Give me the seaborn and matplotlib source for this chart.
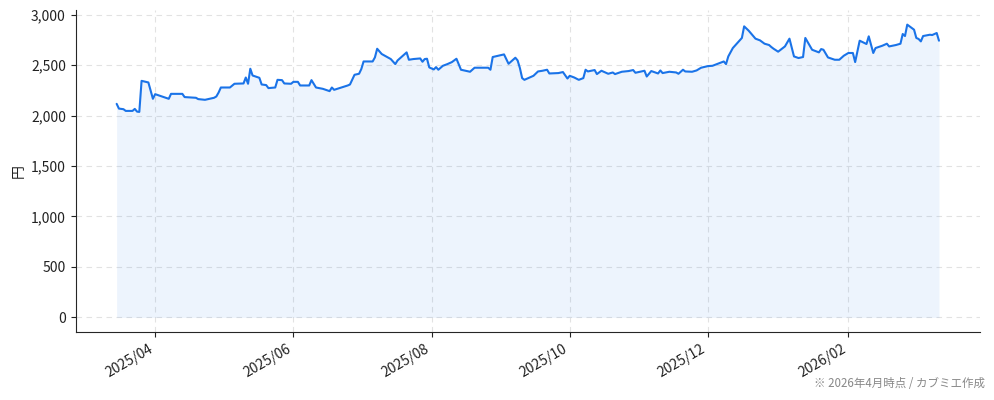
import pandas as pd
import matplotlib
matplotlib.use('Agg')
import matplotlib.pyplot as plt
import matplotlib.dates as mdates
import matplotlib.ticker as mticker
import seaborn as sns

# 株価データ（チャートから読み取り）
dates = [
    '2025-03-15', '2025-03-16', '2025-03-18', '2025-03-19', '2025-03-22', '2025-03-23',
    '2025-03-24', '2025-03-25', '2025-03-26', '2025-03-29', '2025-03-31', '2025-04-01',
    '2025-04-07', '2025-04-08', '2025-04-13', '2025-04-14', '2025-04-19', '2025-04-20',
    '2025-04-23', '2025-04-27', '2025-04-28', '2025-04-29', '2025-04-30', '2025-05-04',
    '2025-05-06', '2025-05-10', '2025-05-11', '2025-05-12', '2025-05-13', '2025-05-14',
    '2025-05-17', '2025-05-18', '2025-05-20', '2025-05-21', '2025-05-24', '2025-05-25',
    '2025-05-27', '2025-05-28', '2025-05-31', '2025-06-01', '2025-06-03', '2025-06-04',
    '2025-06-08', '2025-06-09', '2025-06-11', '2025-06-14', '2025-06-17', '2025-06-18',
    '2025-06-19', '2025-06-25', '2025-06-26', '2025-06-28', '2025-06-30', '2025-07-01',
    '2025-07-02', '2025-07-06', '2025-07-07', '2025-07-08', '2025-07-10', '2025-07-14',
    '2025-07-16', '2025-07-17', '2025-07-21', '2025-07-22', '2025-07-24', '2025-07-27',
    '2025-07-28', '2025-07-29', '2025-07-30', '2025-07-31', '2025-08-02', '2025-08-03',
    '2025-08-04', '2025-08-06', '2025-08-08', '2025-08-10', '2025-08-12', '2025-08-14',
    '2025-08-18', '2025-08-20', '2025-08-26', '2025-08-27', '2025-08-28', '2025-09-02',
    '2025-09-03', '2025-09-04', '2025-09-07', '2025-09-08', '2025-09-09', '2025-09-10',
    '2025-09-11', '2025-09-15', '2025-09-17', '2025-09-19', '2025-09-21', '2025-09-22',
    '2025-09-26', '2025-09-28', '2025-09-30', '2025-10-01', '2025-10-03', '2025-10-05',
    '2025-10-07', '2025-10-08', '2025-10-09', '2025-10-12', '2025-10-13', '2025-10-15',
    '2025-10-18', '2025-10-20', '2025-10-21', '2025-10-24', '2025-10-27', '2025-10-29',
    '2025-10-30', '2025-11-03', '2025-11-04', '2025-11-06', '2025-11-09', '2025-11-10',
    '2025-11-11', '2025-11-14', '2025-11-17', '2025-11-18', '2025-11-20', '2025-11-21',
    '2025-11-24', '2025-11-26', '2025-11-28', '2025-12-01', '2025-12-03', '2025-12-08',
    '2025-12-09', '2025-12-10', '2025-12-12', '2025-12-14', '2025-12-16', '2025-12-17',
    '2025-12-19', '2025-12-22', '2025-12-24', '2025-12-26', '2025-12-28', '2025-12-29',
    '2025-12-30', '2026-01-01', '2026-01-04', '2026-01-06', '2026-01-08', '2026-01-10',
    '2026-01-12', '2026-01-13', '2026-01-16', '2026-01-19', '2026-01-20', '2026-01-21',
    '2026-01-23', '2026-01-26', '2026-01-28', '2026-01-30', '2026-02-01', '2026-02-03',
    '2026-02-04', '2026-02-06', '2026-02-09', '2026-02-10', '2026-02-12', '2026-02-13',
    '2026-02-16', '2026-02-18', '2026-02-19', '2026-02-22', '2026-02-24', '2026-02-25',
    '2026-02-26', '2026-02-27', '2026-03-02', '2026-03-03', '2026-03-04', '2026-03-05',
    '2026-03-06', '2026-03-09', '2026-03-10', '2026-03-12', '2026-03-13',
]
prices = [
    2116, 2069, 2063, 2046, 2046, 2066,
    2039, 2036, 2344, 2328, 2166, 2212,
    2166, 2215, 2215, 2183, 2176, 2163,
    2156, 2176, 2189, 2228, 2278, 2278,
    2315, 2318, 2377, 2315, 2464, 2397,
    2374, 2308, 2302, 2272, 2278, 2354,
    2351, 2318, 2315, 2334, 2334, 2298,
    2298, 2351, 2278, 2265, 2242, 2278,
    2255, 2298, 2308, 2404, 2414, 2461,
    2536, 2536, 2576, 2662, 2610, 2560,
    2510, 2546, 2626, 2553, 2560, 2566,
    2533, 2560, 2563, 2477, 2457, 2480,
    2454, 2493, 2510, 2530, 2563, 2454,
    2434, 2474, 2474, 2454, 2580, 2606,
    2560, 2513, 2573, 2546, 2471, 2371,
    2354, 2394, 2437, 2444, 2454, 2417,
    2421, 2431, 2367, 2394, 2377, 2354,
    2371, 2454, 2437, 2451, 2411, 2444,
    2414, 2427, 2411, 2434, 2441, 2451,
    2424, 2444, 2387, 2441, 2417, 2447,
    2421, 2434, 2427, 2414, 2454, 2437,
    2434, 2447, 2474, 2490, 2493, 2536,
    2510, 2586, 2669, 2719, 2769, 2884,
    2841, 2762, 2745, 2712, 2699, 2679,
    2662, 2633, 2685, 2762, 2586, 2570,
    2580, 2769, 2652, 2626, 2659, 2652,
    2576, 2553, 2553, 2593, 2620, 2620,
    2530, 2742, 2709, 2785, 2620, 2669,
    2692, 2712, 2685, 2699, 2712, 2808,
    2788, 2901, 2851, 2769, 2759, 2735,
    2788, 2801, 2798, 2818, 2742,
]

df = pd.DataFrame({'日付': pd.to_datetime(dates), '株価': prices})

sns.set_style('ticks')
plt.rcParams['font.family'] = ['Noto Sans CJK JP', 'DejaVu Sans']

line_color = '#1a73e8'

fig, ax = plt.subplots(figsize=(9.94, 4.0), dpi=100)
sns.lineplot(data=df, x='日付', y='株価', color=line_color, linewidth=1.5, ax=ax)
ax.fill_between(df['日付'], df['株価'], 0, color=line_color, alpha=0.08, linewidth=0)

ax.set_xlabel('')
ax.set_ylabel('円', fontsize=10, color='#222222')
ax.grid(True, linestyle=(0, (5, 4)), color='#e2e2e2', linewidth=0.8)
ax.set_axisbelow(True)
sns.despine(ax=ax)

ax.xaxis.set_major_locator(mdates.MonthLocator(bymonth=[2, 4, 6, 8, 10, 12]))
ax.xaxis.set_major_formatter(mdates.DateFormatter('%Y/%m'))
ax.yaxis.set_major_locator(mticker.MultipleLocator(500))
ax.yaxis.set_major_formatter(mticker.FuncFormatter(lambda v, p: f'{int(v):,}'))
ax.tick_params(axis='both', labelsize=10, colors='#222222')
plt.setp(ax.get_xticklabels(), rotation=30, ha='right')

fig.text(0.991, 0.042, '※ 2026年4月時点 / カブミエ作成', ha='right', va='center',
         fontsize=8.3, color='#888888')

fig.subplots_adjust(left=0.076, right=0.986, top=0.975, bottom=0.17)
fig.savefig('out.png', dpi=100)
